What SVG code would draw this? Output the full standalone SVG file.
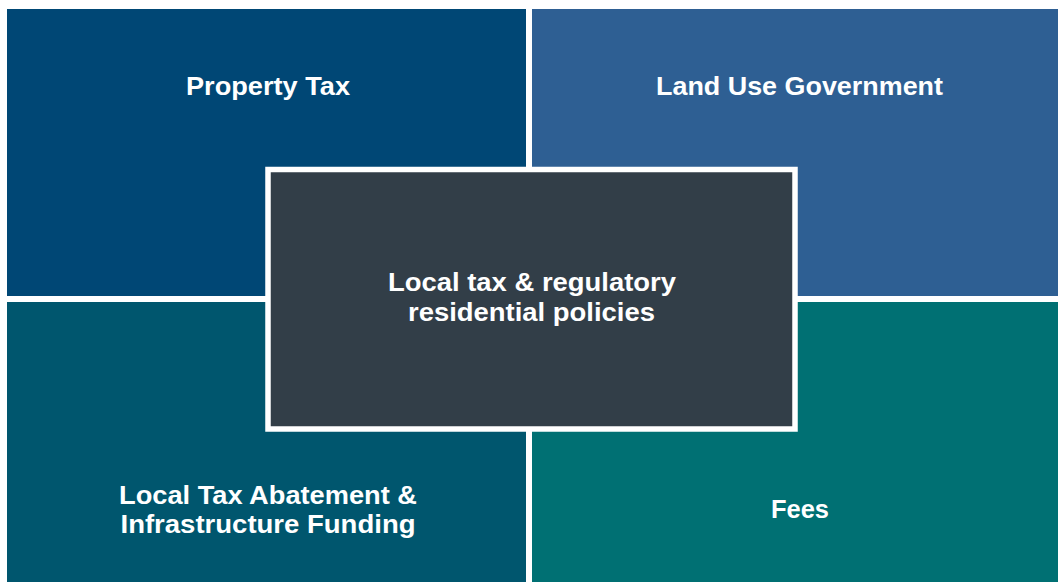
<svg xmlns="http://www.w3.org/2000/svg" width="1058" height="582" viewBox="0 0 1058 582">
  <style>
    .label { font-family: "Liberation Sans", Arial, sans-serif; font-weight: bold; font-size: 25px; fill: #ffffff; text-anchor: middle; }
  </style>
  <rect x="0" y="0" width="1058" height="582" fill="#ffffff"/>

  <g id="property-tax">
    <rect x="7" y="9" width="519" height="287" fill="#004775"/>
    <text class="label" x="268" y="95" textLength="164" lengthAdjust="spacingAndGlyphs">Property Tax</text>
  </g>

  <g id="land-use-government">
    <rect x="532" y="9" width="526" height="287" fill="#2e5f93"/>
    <text class="label" x="799.5" y="95" textLength="287" lengthAdjust="spacingAndGlyphs">Land Use Government</text>
  </g>

  <g id="local-tax-abatement">
    <rect x="7" y="302" width="519" height="280" fill="#00566e"/>
    <text class="label" x="268" y="504" textLength="298" lengthAdjust="spacingAndGlyphs">Local Tax Abatement &amp;</text>
    <text class="label" x="268" y="533" textLength="295" lengthAdjust="spacingAndGlyphs">Infrastructure Funding</text>
  </g>

  <g id="fees">
    <rect x="532" y="302" width="526" height="280" fill="#007073"/>
    <text class="label" x="800" y="518" textLength="58" lengthAdjust="spacingAndGlyphs">Fees</text>
  </g>

  <g id="center-policies">
    <rect x="268" y="169.5" width="527" height="259.5" fill="#323e48" stroke="#ffffff" stroke-width="5.5"/>
    <text class="label" x="532" y="291" textLength="288" lengthAdjust="spacingAndGlyphs">Local tax &amp; regulatory</text>
    <text class="label" x="531.5" y="321" textLength="247" lengthAdjust="spacingAndGlyphs">residential policies</text>
  </g>

  <g id="connectors"></g>
</svg>
